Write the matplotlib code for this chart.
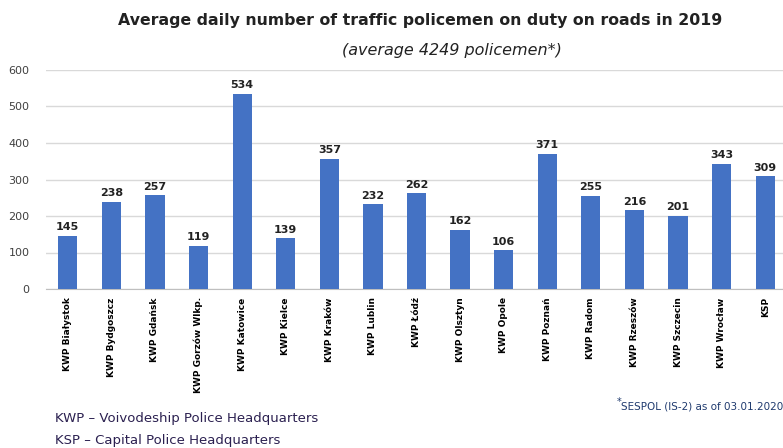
import numpy as np
import matplotlib
matplotlib.use("Agg")
import matplotlib.pyplot as plt

# ── Data ──────────────────────────
units = [
    "KWP Białystok", "KWP Bydgoszcz", "KWP Gdańsk", "KWP Gorzów Wlkp.",
    "KWP Katowice", "KWP Kielce", "KWP Kraków", "KWP Lublin", "KWP Łódź",
    "KWP Olsztyn", "KWP Opole", "KWP Poznań", "KWP Radom", "KWP Rzeszów",
    "KWP Szczecin", "KWP Wrocław", "KSP",
]
policemen = [145, 238, 257, 119, 534, 139, 357, 232, 262,
             162, 106, 371, 255, 216, 201, 343, 309]
y_ticks = [0, 100, 200, 300, 400, 500, 600]

BAR = "#4472C4"
GRID = "#d9d9d9"
TEXT = "#404040"

plt.rcParams["font.family"] = ["DejaVu Sans"]

fig = plt.figure(figsize=(7.83, 4.48), dpi=100)
ax = fig.add_axes([46 / 783, 159 / 448, 741 / 783, 219 / 448])

x = np.arange(len(units))
ax.bar(x, policemen, width=0.44, color=BAR, zorder=3)

for xi, v in zip(x, policemen):
    ax.text(xi, v + 10, str(v), ha="center", va="bottom",
            fontsize=8, fontweight="bold", color="#222222")

ax.set_xlim(-0.5, len(units) - 0.5)
ax.set_ylim(0, 600)
ax.set_yticks(y_ticks)
ax.tick_params(axis="y", length=0, labelsize=8, labelcolor=TEXT, pad=12)
ax.set_xticks(x)
ax.set_xticklabels(units, rotation=90, fontsize=6.5, fontweight="bold",
                   va="top", ha="center")
ax.tick_params(axis="x", length=0, pad=6)
ax.grid(axis="y", color=GRID, lw=1, zorder=0)
for s in ["top", "right", "left"]:
    ax.spines[s].set_visible(False)
ax.spines["bottom"].set_color("#bfbfbf")

fig.text(420 / 783, 1 - 20 / 448, "Average daily number of traffic policemen on duty on roads in 2019",
         ha="center", va="center", fontsize=11.3, fontweight="bold", color="#222222")
fig.text(452 / 783, 1 - 50 / 448, "(average 4249 policemen*)",
         ha="center", va="center", fontsize=11.5, style="italic", color="#222222")

fig.text(55 / 783, 1 - 418 / 448, "KWP – Voivodeship Police Headquarters",
         ha="left", va="center", fontsize=9.5, color="#2b2050")
fig.text(55 / 783, 1 - 440 / 448, "KSP – Capital Police Headquarters",
         ha="left", va="center", fontsize=9.5, color="#2b2050")
fig.text(617 / 783, 1 - 402 / 448, "*", ha="left", va="center", fontsize=7, color="#1f3a6e")
fig.text(621 / 783, 1 - 406 / 448, "SESPOL (IS-2) as of 03.01.2020",
         ha="left", va="center", fontsize=7.5, color="#1f3a6e")

fig.savefig("out.png", dpi=100)
